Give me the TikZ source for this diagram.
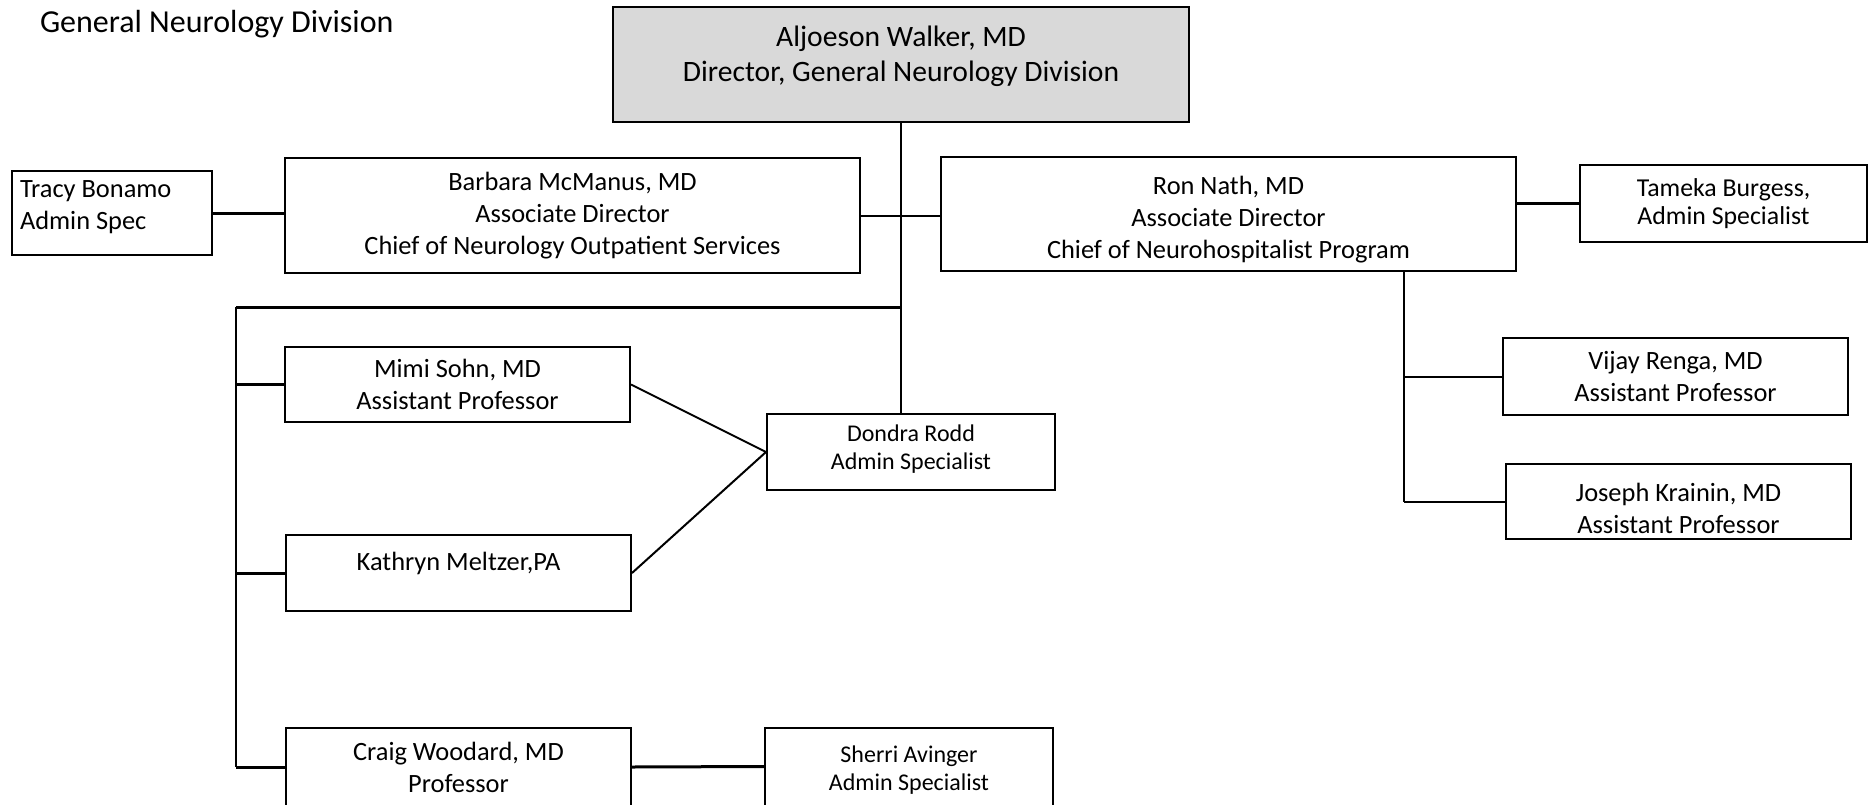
\documentclass[tikz,border=0pt]{standalone}
\usepackage{fontspec}
\setmainfont{Carlito}

% raise a block of lines inside its box without changing the box
\newcommand{\liftup}[3]{\raisebox{#1}[\height][\depth]{\begin{tabular}{@{}#2@{}}#3\end{tabular}}}

\begin{document}
\begin{tikzpicture}[
		x = 0.5pt, y = -0.5pt,
		every node/.style = {
			shape = rectangle,
			draw,
			line width = 1pt,
			align = center,
			inner sep = 0pt,
			font = \fontsize{13.2}{16}\selectfont,
		},
		small/.style = {font = \fontsize{12}{14}\selectfont},
		thick line/.style = {line width = 1.5pt},
	]
	\useasboundingbox (0, 0) rectangle (1875, 804);

	\draw (39, 24) node (title) [draw = none, anchor = west, font = \fontsize{16}{19}\selectfont]
		{General Neurology Division};

	\draw (901, 64.5) node (walker) [fill = black!15, minimum width = 288pt, minimum height = 57.5pt,
		font = \fontsize{14.8}{17.5}\selectfont]
		{\liftup{4pt}{c}{Aljoeson Walker, MD\\Director, General Neurology Division}};
	\draw (112, 213) node (tracy) [minimum width = 100pt, minimum height = 42pt]
		{\makebox[92pt][l]{\liftup{3pt}{l}{Tracy Bonamo\\Admin Spec}}};
	\draw (572.5, 215.5) node (barbara) [minimum width = 287.5pt, minimum height = 57.5pt]
		{Barbara McManus, MD\\Associate Director\\Chief of Neurology Outpatient Services};
	\draw (1228.5, 214) node (ron) [minimum width = 287.5pt, minimum height = 57pt]
		{\liftup{-3pt}{c}{Ron Nath, MD\\Associate Director\\Chief of Neurohospitalist Program}};
	\draw (1723.5, 203.5) node (tameka) [minimum width = 143.5pt, minimum height = 38.5pt,
		font = \fontsize{12.9}{14}\selectfont]
		{Tameka Burgess,\\Admin Specialist};

	\draw (457.5, 384.5) node (mimi) [minimum width = 172.5pt, minimum height = 37.5pt]
		{Mimi Sohn, MD\\Assistant Professor};
	\draw (911, 452) node (dondra) [small, minimum width = 144pt, minimum height = 38pt]
		{\liftup{1pt}{c}{Dondra Rodd\\Admin Specialist}};
	\draw (458.5, 573) node (kathryn) [minimum width = 172.5pt, minimum height = 38pt]
		{\liftup{4.5pt}{c}{Kathryn Meltzer,PA}};
	\draw (458.5, 767) node (craig) [minimum width = 172.5pt, minimum height = 39pt]
		{Craig Woodard, MD\\Professor};
	\draw (909, 766.5) node (sherri) [small, minimum width = 144pt, minimum height = 39pt]
		{\liftup{-2pt}{c}{Sherri Avinger\\Admin Specialist}};

	\draw (1675.5, 376.5) node (vijay) [minimum width = 172.5pt, minimum height = 38.5pt]
		{Vijay Renga, MD\\Assistant Professor};
	\draw (1678.5, 501.5) node (joseph) [minimum width = 172.5pt, minimum height = 37.5pt]
		{\liftup{-5pt}{c}{Joseph Krainin, MD\\Assistant Professor}};

	\coordinate (lbus) at (236, 307);
	\coordinate (rbus) at (1404, 274);

	\draw [line width = 1pt] (walker.south) -- (walker.south |- dondra.north);
	\draw [line width = 1pt] (barbara.east) -- (barbara.east -| ron.west);
	\draw [thick line] (tracy.east) -- (tracy.east -| barbara.west);
	\draw [thick line] (ron.east |- tameka.west) -- (tameka.west);

	\draw [thick line] (walker.south |- lbus) -- (lbus);
	\draw [line width = 1pt] (lbus) -- (lbus |- craig.west);
	\draw [thick line] (lbus |- mimi.west) -- (mimi.west);
	\draw [thick line] (lbus |- kathryn.west) -- (kathryn.west);
	\draw [thick line] (lbus |- craig.west) -- (craig.west);

	\draw [line width = 1pt] (mimi.east) -- (dondra.west);
	\draw [line width = 1pt] (kathryn.east) -- (dondra.west);
	\draw [thick line] (craig.east) -- (sherri.west);

	\draw [line width = 1pt] (rbus |- ron.south) -- (rbus |- joseph.west);
	\draw [line width = 1pt] (rbus |- vijay.west) -- (vijay.west);
	\draw [line width = 1pt] (rbus |- joseph.west) -- (joseph.west);
\end{tikzpicture}
\end{document}
